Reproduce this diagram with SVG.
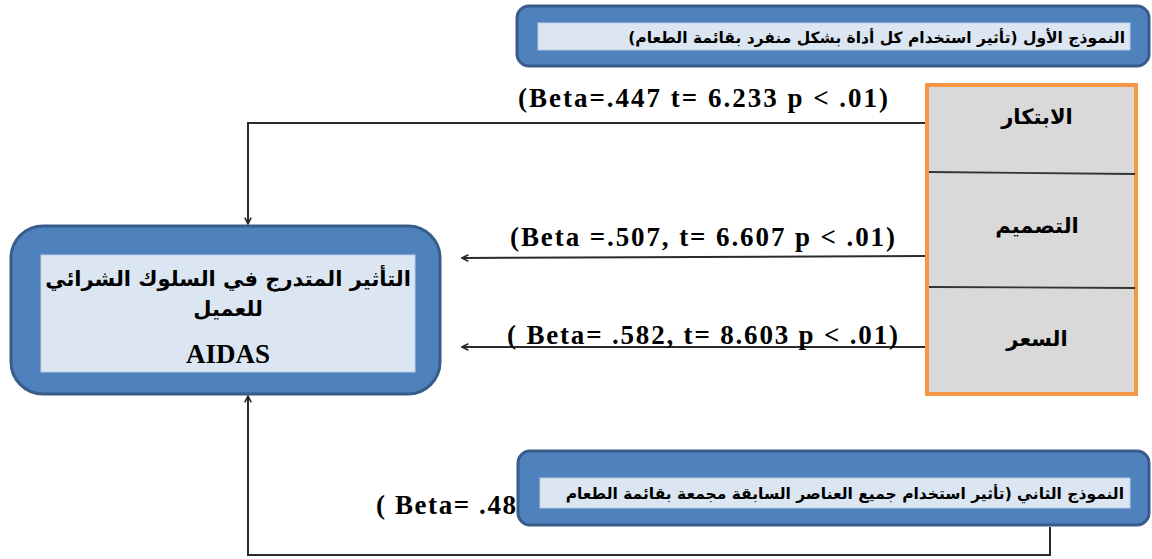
<svg xmlns="http://www.w3.org/2000/svg" width="1152" height="559" viewBox="0 0 1152 559">
<style>
.outer{fill:#4f81bd;stroke:#385d8a;stroke-width:3}
.inner{fill:#dce6f2;stroke:#b9cde5;stroke-width:1}
.ar{font-family:"DejaVu Sans",sans-serif;font-weight:bold;fill:#000}
.lat{font-family:"Liberation Serif","Times New Roman",serif;font-weight:bold;fill:#000}
.conn{fill:none;stroke:#2b2b2b;stroke-width:2}
</style>
<defs>
<marker id="arr" viewBox="0 0 10 10" refX="9" refY="5" markerWidth="8" markerHeight="8" orient="auto" markerUnits="userSpaceOnUse">
<path d="M1,1 L9,5 L1,9" fill="none" stroke="#2b2b2b" stroke-width="2"/>
</marker>
</defs>
<rect width="1152" height="559" fill="#fff"/>

<g id="connectors">
<polyline class="conn" points="926,123 248,123 248,224" marker-end="url(#arr)"/>
<line class="conn" x1="926" y1="256" x2="462" y2="258" marker-end="url(#arr)"/>
<line class="conn" x1="926" y1="347" x2="462" y2="347" marker-end="url(#arr)"/>
<polyline class="conn" points="1050,527 1050,555 248,555 248,396" marker-end="url(#arr)"/>
</g>

<g id="labels">
<text class="lat" x="518" y="107" font-size="27" textLength="370" lengthAdjust="spacing">(Beta=.447 t= 6.233 p &lt; .01)</text>
<text class="lat" x="510" y="246" font-size="27" textLength="385" lengthAdjust="spacing">(Beta =.507, t= 6.607 p &lt; .01)</text>
<text class="lat" x="507" y="344" font-size="27" textLength="391" lengthAdjust="spacing">( Beta= .582, t= 8.603 p &lt; .01)</text>
<text class="lat" x="376" y="514" font-size="27" textLength="140" lengthAdjust="spacing">( Beta= .48</text>
</g>

<g id="model1">
<rect class="outer" x="517" y="6" width="632" height="60" rx="12"/>
<rect class="inner" x="538" y="23" width="592" height="27"/>
<text class="ar" x="1125" y="43" font-size="15.5" direction="rtl" text-anchor="start">النموذج الأول (تأثير  استخدام كل أداة بشكل منفرد بقائمة الطعام)</text>
</g>

<g id="vars">
<rect x="927" y="85" width="209" height="309" fill="#d9d9d9" stroke="#f79646" stroke-width="4"/>
<line x1="929" y1="172" x2="1135" y2="174" stroke="#333" stroke-width="1.8"/>
<line x1="929" y1="287" x2="1135" y2="288" stroke="#333" stroke-width="1.8"/>
<text class="ar" x="1037" y="124" font-size="21" text-anchor="middle">الابتكار</text>
<text class="ar" x="1037" y="233" font-size="21" text-anchor="middle">التصميم</text>
<text class="ar" x="1037" y="346" font-size="21" text-anchor="middle">السعر</text>
</g>

<g id="aidas">
<rect class="outer" x="11" y="226" width="429" height="168" rx="32"/>
<rect class="inner" x="41" y="255" width="374" height="117"/>
<text class="ar" x="228" y="286" font-size="21" text-anchor="middle" direction="rtl">التأثير المتدرج في السلوك الشرائي</text>
<text class="ar" x="228" y="316" font-size="21" text-anchor="middle" direction="rtl">للعميل</text>
<text class="lat" x="228" y="363" font-size="27" text-anchor="middle">AIDAS</text>
</g>

<g id="model2">
<rect class="outer" x="518" y="451" width="631" height="74" rx="12"/>
<rect class="inner" x="540" y="478" width="590" height="30"/>
<text class="ar" x="1124" y="499" font-size="15.5" direction="rtl" text-anchor="start">النموذج الثاني (تأثير  استخدام جميع العناصر  السابقة مجمعة بقائمة الطعام</text>
</g>
</svg>
